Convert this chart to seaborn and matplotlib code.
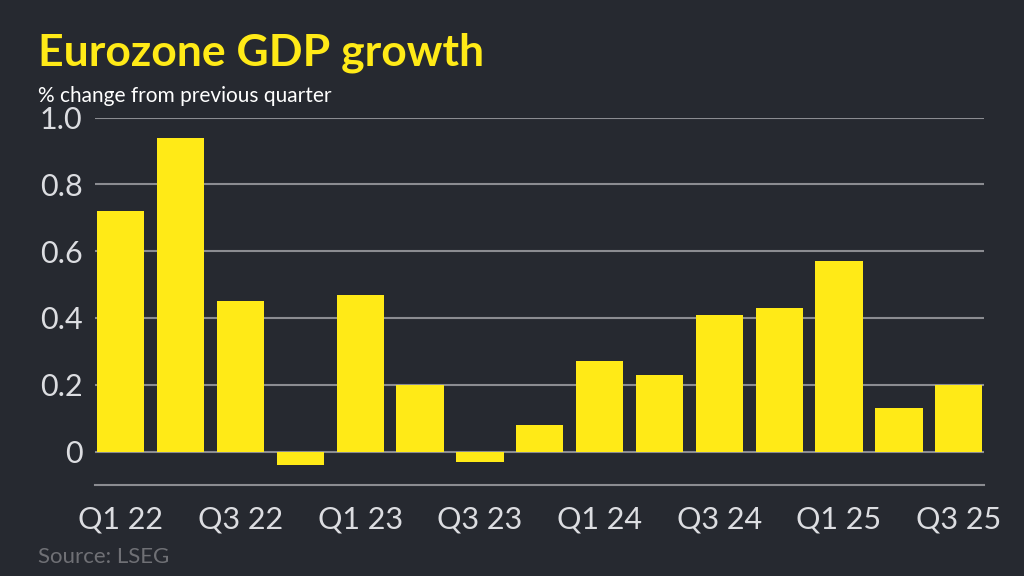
#!/usr/bin/env python3
# -*- coding: utf-8 -*-
"""
plot.py

Eurozone GDP growth, quarter on quarter, as a dark themed bar chart.
"""

import matplotlib

matplotlib.use("Agg")
import matplotlib.pyplot as plt
import pandas as pd
import seaborn as sns

# Data
quarters = [
    "Q1 22", "Q2 22", "Q3 22", "Q4 22",
    "Q1 23", "Q2 23", "Q3 23", "Q4 23",
    "Q1 24", "Q2 24", "Q3 24", "Q4 24",
    "Q1 25", "Q2 25", "Q3 25",
]
growth = [
    0.72, 0.94, 0.45, -0.04,
    0.47, 0.20, -0.03, 0.08,
    0.27, 0.23, 0.41, 0.43,
    0.57, 0.13, 0.20,
]
ytick_values = [0, 0.2, 0.4, 0.6, 0.8, 1.0]
ytick_labels = ["0", "0.2", "0.4", "0.6", "0.8", "1.0"]

BG = "#262930"
YELLOW = "#ffea17"
GRID = "#8b8c91"
TEXT = "#dcdde1"
SOURCE = "#6f7075"

sns.set_theme(style="dark")
plt.rcParams["font.family"] = ["Lato", "DejaVu Sans"]

df = pd.DataFrame({"quarter": quarters, "growth": growth})

fig = plt.figure(figsize=(10.24, 5.76), dpi=100, facecolor=BG)
ax = fig.add_axes([0.0928, 0.158, 0.868, 0.638])
ax.set_facecolor(BG)

sns.barplot(
    data=df,
    x="quarter",
    y="growth",
    color=YELLOW,
    saturation=1,
    width=0.79,
    linewidth=0,
    edgecolor="none",
    ax=ax,
    zorder=3,
)

# Horizontal gridlines behind the bars
for v in ytick_values:
    ax.axhline(v, color=GRID, linewidth=1.5, zorder=1)

ax.set_xlim(-0.43, 14.42)
ax.set_ylim(-0.1, 1.0)
ax.set_yticks(ytick_values)
ax.set_yticklabels(ytick_labels)

# Tick at every quarter, label every second one
ax.set_xticks(range(len(quarters)))
ax.set_xticklabels([q if i % 2 == 0 else "" for i, q in enumerate(quarters)])

ax.set_xlabel("")
ax.set_ylabel("")
ax.grid(False)

for side in ["top", "right", "left"]:
    ax.spines[side].set_visible(False)
ax.spines["bottom"].set_color(GRID)
ax.spines["bottom"].set_linewidth(1.5)

ax.tick_params(axis="x", colors=GRID, length=8.5, width=1.5, pad=6,
               labelsize=22, labelcolor=TEXT)
ax.tick_params(axis="y", length=0, pad=9, labelsize=22, labelcolor=TEXT)

fig.text(0.037, 0.887, "Eurozone GDP growth", color=YELLOW,
         fontsize=32, fontweight="bold", va="baseline")
fig.text(0.037, 0.8235, "% change from previous quarter", color="white",
         fontsize=15, va="baseline")
fig.text(0.037, 0.0226, "Source: LSEG", color=SOURCE,
         fontsize=16, va="baseline")

fig.savefig("out.png", dpi=100, facecolor=BG)
